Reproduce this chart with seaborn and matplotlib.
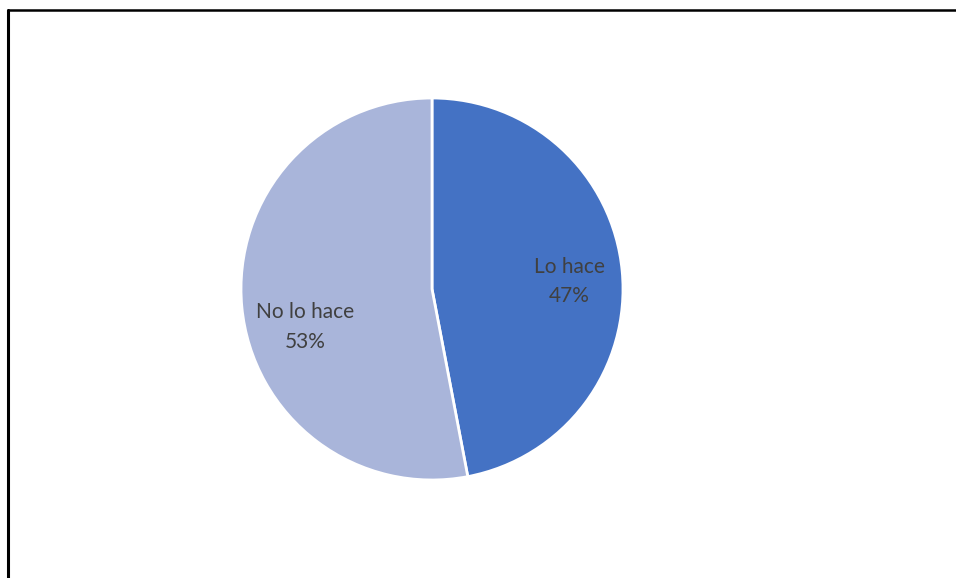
import matplotlib
matplotlib.use("Agg")
import matplotlib.pyplot as plt
from matplotlib.lines import Line2D
import seaborn as sns

categories = ["Lo hace", "No lo hace"]
values = [47, 53]
colors = ["#4472C4", "#A9B5DA"]

sns.set_theme(style="white")
plt.rcParams['font.family'] = ['Lato', 'DejaVu Sans']

W, H = 956, 578
fig = plt.figure(figsize=(W / 100, H / 100), dpi=100)
fig.patch.set_facecolor("white")

cx, cy, r = 432, 289, 191
ax = fig.add_axes([(cx - r) / W, (H - cy - r) / H, 2 * r / W, 2 * r / H])
palette = sns.color_palette(colors)
wedges, _ = ax.pie(values, colors=palette, startangle=90, counterclock=False,
                   radius=1, wedgeprops=dict(edgecolor="white", linewidth=2.0))
ax.set_xlim(-1, 1)
ax.set_ylim(-1, 1)
ax.set_aspect("equal")
ax.axis("off")

label_pos = [(0.717, 0.04), (-0.665, -0.20)]
for cat, val, (x, y) in zip(categories, values, label_pos):
    ax.text(x, y, f"{cat}\n{val}%", ha="center", va="center", fontsize=15,
            color="#404040", linespacing=1.6)

# frame border (top and left edges visible)
fig.add_artist(Line2D([7.5 / W, 1], [1 - 9.5 / H, 1 - 9.5 / H], transform=fig.transFigure,
                      color="black", linewidth=1.8))
fig.add_artist(Line2D([8 / W, 8 / W], [0, 1 - 9.5 / H], transform=fig.transFigure,
                      color="black", linewidth=2.2))

fig.savefig("out.png", dpi=100, facecolor="white")
